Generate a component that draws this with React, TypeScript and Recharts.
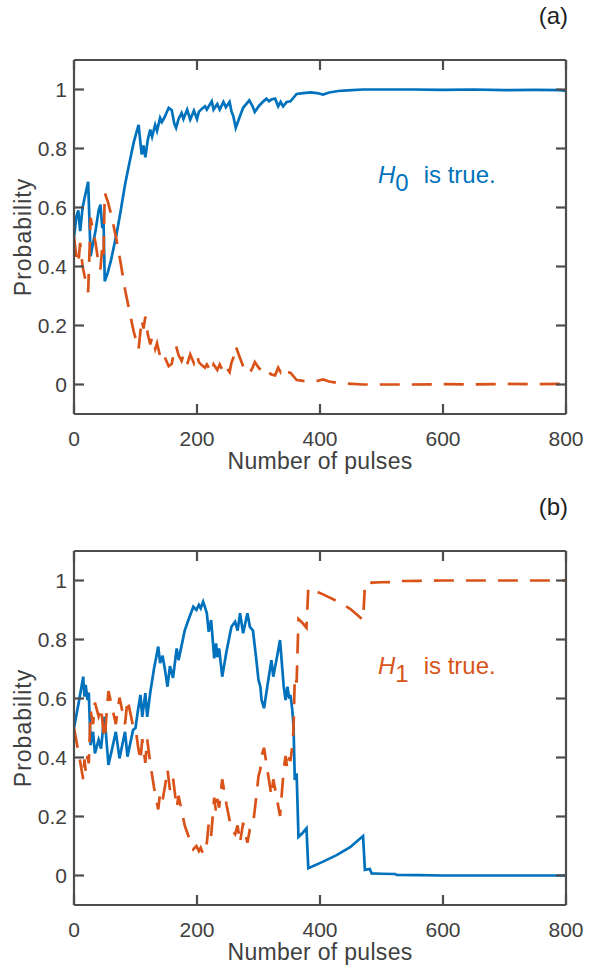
import React from "react";
import { LineChart, Line, XAxis, YAxis } from "recharts";

// MATLAB-ish default line colours
const BLUE = "#0072BD";
const ORANGE = "#D95319";
const FRAME = "#4d4d4d";
const INK = "#404040";
const FONT = "Arial, 'Liberation Sans', Helvetica, sans-serif";

const X_TICKS = [0, 200, 400, 600, 800];
const Y_TICKS = [0, 0.2, 0.4, 0.6, 0.8, 1];
const X_DOMAIN: [number, number] = [0, 800];
const Y_DOMAIN: [number, number] = [-0.1, 1.1];

// (a) H0 is true
const PULSES_A = [
  0, 4, 7, 10, 14, 18, 23, 27, 31, 35, 40, 43, 46, 48, 50, 55, 60, 69, 76, 83,
  90, 97, 105, 110, 113, 116, 120, 124, 127, 132, 135, 140, 143, 147, 154, 159, 163, 166, 170, 175,
  178, 184, 189, 195, 200, 203, 208, 213, 216, 224, 227, 233, 237, 243, 247, 253, 256, 259, 263, 269,
  275, 285, 290, 294, 301, 308, 313, 317, 321, 327, 332, 336, 340, 346, 352, 362, 373, 385, 395, 405,
  415, 430, 445, 470, 500, 550, 600, 650, 700, 750, 790, 800,
];
const PH0_A = [
  0.5, 0.57, 0.59, 0.52, 0.6, 0.64, 0.687, 0.435, 0.48, 0.52, 0.59, 0.61, 0.53, 0.56, 0.35, 0.38, 0.42, 0.508, 0.59, 0.678,
  0.75, 0.82, 0.88, 0.78, 0.81, 0.77, 0.83, 0.864, 0.84, 0.88, 0.86, 0.904, 0.89, 0.905, 0.938, 0.93, 0.885, 0.87, 0.9, 0.92,
  0.9, 0.932, 0.898, 0.928, 0.9, 0.924, 0.935, 0.943, 0.932, 0.96, 0.932, 0.951, 0.932, 0.958, 0.94, 0.958, 0.926, 0.91, 0.87, 0.905,
  0.938, 0.963, 0.945, 0.924, 0.945, 0.96, 0.969, 0.96, 0.966, 0.969, 0.943, 0.958, 0.943, 0.958, 0.96, 0.985, 0.988, 0.99, 0.988, 0.983,
  0.99, 0.995, 0.997, 1.0, 1.0, 1.0, 0.999, 1.0, 0.998, 0.999, 0.998, 0.995,
];
const PH1_A = [
  0.5, 0.43, 0.41, 0.48, 0.4, 0.36, 0.313, 0.565, 0.52, 0.48, 0.41, 0.39, 0.47, 0.44, 0.65, 0.62, 0.58, 0.492, 0.41, 0.322,
  0.25, 0.18, 0.12, 0.22, 0.19, 0.23, 0.17, 0.136, 0.16, 0.12, 0.14, 0.096, 0.11, 0.095, 0.062, 0.07, 0.115, 0.13, 0.1, 0.08,
  0.1, 0.068, 0.102, 0.072, 0.1, 0.076, 0.065, 0.057, 0.068, 0.04, 0.068, 0.049, 0.068, 0.042, 0.06, 0.042, 0.074, 0.09, 0.13, 0.095,
  0.062, 0.037, 0.055, 0.076, 0.055, 0.04, 0.031, 0.04, 0.034, 0.031, 0.057, 0.042, 0.057, 0.042, 0.04, 0.015, 0.012, 0.01, 0.012, 0.017,
  0.01, 0.005, 0.003, 0.0, 0.0, 0.0, 0.001, 0.0, 0.002, 0.001, 0.002, 0.005,
];

// (b) H1 is true
const PULSES_B = [
  0, 8, 15, 17, 19, 22, 24, 27, 31, 34, 40, 44, 48, 50, 52, 56, 62, 68, 74, 83,
  87, 96, 100, 104, 108, 111, 116, 119, 124, 130, 137, 140, 144, 148, 152, 156, 161, 167, 170, 175,
  180, 186, 194, 199, 203, 206, 210, 213, 216, 219, 223, 228, 231, 233, 236, 241, 248, 256, 262, 266,
  270, 275, 282, 286, 291, 296, 300, 303, 305, 309, 315, 321, 324, 330, 335, 341, 344, 347, 350, 352,
  355, 357, 359, 362, 365, 372, 378, 381, 405, 427, 449, 470, 473, 481, 484, 500, 522, 525, 560, 600,
  700, 800,
];
const PH0_B = [
  0.5, 0.59, 0.674, 0.606, 0.646, 0.595, 0.62, 0.442, 0.487, 0.414, 0.46, 0.43, 0.516, 0.538, 0.478, 0.375, 0.43, 0.487, 0.397, 0.487,
  0.403, 0.493, 0.5, 0.56, 0.612, 0.538, 0.618, 0.538, 0.62, 0.7, 0.776, 0.72, 0.745, 0.697, 0.64, 0.71, 0.67, 0.77, 0.73, 0.78,
  0.83, 0.866, 0.911, 0.9, 0.917, 0.906, 0.928, 0.91, 0.889, 0.826, 0.866, 0.736, 0.787, 0.74, 0.77, 0.674, 0.76, 0.843, 0.86, 0.83,
  0.889, 0.821, 0.889, 0.843, 0.83, 0.74, 0.663, 0.64, 0.595, 0.567, 0.65, 0.73, 0.674, 0.74, 0.798, 0.64, 0.595, 0.64, 0.6, 0.612,
  0.56, 0.504, 0.324, 0.346, 0.131, 0.145, 0.16, 0.025, 0.047, 0.069, 0.096, 0.134, 0.019, 0.022, 0.007, 0.006, 0.005, 0.002, 0.001, 0.0,
  0.0, 0.0,
];
const PH1_B = [
  0.5, 0.41, 0.326, 0.394, 0.354, 0.405, 0.38, 0.558, 0.513, 0.586, 0.54, 0.57, 0.484, 0.462, 0.522, 0.625, 0.57, 0.513, 0.603, 0.513,
  0.597, 0.507, 0.5, 0.44, 0.388, 0.462, 0.382, 0.462, 0.38, 0.3, 0.224, 0.28, 0.255, 0.303, 0.36, 0.29, 0.33, 0.23, 0.27, 0.22,
  0.17, 0.134, 0.089, 0.1, 0.083, 0.094, 0.072, 0.09, 0.111, 0.174, 0.134, 0.264, 0.213, 0.26, 0.23, 0.326, 0.24, 0.157, 0.14, 0.17,
  0.111, 0.179, 0.111, 0.157, 0.17, 0.26, 0.337, 0.36, 0.405, 0.433, 0.35, 0.27, 0.326, 0.26, 0.202, 0.36, 0.405, 0.36, 0.4, 0.388,
  0.44, 0.496, 0.676, 0.654, 0.869, 0.855, 0.84, 0.975, 0.953, 0.931, 0.904, 0.866, 0.981, 0.978, 0.993, 0.994, 0.995, 0.998, 0.999, 1.0,
  1.0, 1.0,
];

type Row = { x: number; p0: number; p1: number };
const toRows = (xs: number[], p0: number[], p1: number[]): Row[] =>
  xs.map((x, i) => ({ x, p0: p0[i], p1: p1[i] }));

const PLOT_H = 354;
const AXIS_H = 40;
const TICK_LEN = 10; // ticks point into the box, matlab style

// inward tick marks on all four edges, placed from the plot box recharts hands to the label,
// plus the x title
function BoxTicks(props: any) {
  const vb = props.viewBox;
  const left = vb.x;
  const right = vb.x + vb.width;
  const bottom = vb.y;
  const top = bottom - PLOT_H;
  const sx = (v: number) => left + ((v - X_DOMAIN[0]) / (X_DOMAIN[1] - X_DOMAIN[0])) * vb.width;
  const sy = (v: number) => bottom - ((v - Y_DOMAIN[0]) / (Y_DOMAIN[1] - Y_DOMAIN[0])) * PLOT_H;
  return (
    <g stroke={FRAME} strokeWidth={2.2}>
      {X_TICKS.map((t) => (
        <g key={`x${t}`}>
          <line x1={sx(t)} x2={sx(t)} y1={bottom} y2={bottom - TICK_LEN} />
          <line x1={sx(t)} x2={sx(t)} y1={top} y2={top + TICK_LEN} />
        </g>
      ))}
      {Y_TICKS.map((t) => (
        <g key={`y${t}`}>
          <line x1={left} x2={left + TICK_LEN} y1={sy(t)} y2={sy(t)} />
          <line x1={right} x2={right - TICK_LEN} y1={sy(t)} y2={sy(t)} />
        </g>
      ))}
      <text
        x={left + vb.width / 2}
        y={vb.y + vb.height + 15}
        textAnchor="middle"
        fill={INK}
        stroke="none"
        fontSize={23}
        letterSpacing={0.3}
      >
        Number of pulses
      </text>
    </g>
  );
}

function YTitle(props: any) {
  const vb = props.viewBox;
  const cx = vb.x + 23;
  const cy = vb.y + vb.height / 2;
  return (
    <text
      transform={`translate(${cx},${cy}) rotate(-90)`}
      textAnchor="middle"
      dominantBaseline="central"
      fill={INK}
      fontSize={23}
      letterSpacing={1}
    >
      Probability
    </text>
  );
}

const frameLine = { stroke: FRAME, strokeWidth: 2.2 };
const noLabel = () => <g />;

function Panel({ data, height, top }: { data: Row[]; height: number; top: number }) {
  return (
    <LineChart
      width={592}
      height={height}
      data={data}
      margin={{ top: top - 1, right: 25, bottom: height - top - PLOT_H - AXIS_H, left: 0 }}
      style={{ fontFamily: FONT }}
    >
      <XAxis
        xAxisId="b"
        dataKey="x"
        type="number"
        domain={X_DOMAIN}
        ticks={X_TICKS}
        allowDataOverflow
        height={AXIS_H}
        tickSize={0}
        tickMargin={17}
        axisLine={frameLine}
        tickLine={false}
        tick={{ fill: INK, fontSize: 21 }}
        label={{ content: BoxTicks }}
      />
      <XAxis
        xAxisId="t"
        orientation="top"
        dataKey="x"
        type="number"
        domain={X_DOMAIN}
        ticks={X_TICKS}
        allowDataOverflow
        height={1}
        tickSize={0}
        axisLine={frameLine}
        tickLine={false}
        tick={noLabel}
      />
      <YAxis
        yAxisId="l"
        type="number"
        domain={Y_DOMAIN}
        ticks={Y_TICKS}
        allowDataOverflow
        width={74}
        tickSize={0}
        tickMargin={7}
        axisLine={frameLine}
        tickLine={false}
        tick={{ fill: INK, fontSize: 21 }}
        label={{ content: YTitle }}
      />
      <YAxis
        yAxisId="r"
        orientation="right"
        type="number"
        domain={Y_DOMAIN}
        ticks={Y_TICKS}
        allowDataOverflow
        width={1}
        tickSize={0}
        axisLine={frameLine}
        tickLine={false}
        tick={noLabel}
      />
      {/* invisible copy so the top / right frame axes have a series */}
      <Line
        xAxisId="t"
        yAxisId="r"
        type="linear"
        dataKey="p0"
        stroke="none"
        dot={false}
        legendType="none"
        isAnimationActive={false}
      />
      <Line
        xAxisId="b"
        yAxisId="l"
        type="linear"
        dataKey="p0"
        stroke={BLUE}
        strokeWidth={2.7}
        dot={false}
        isAnimationActive={false}
      />
      <Line
        xAxisId="b"
        yAxisId="l"
        type="linear"
        dataKey="p1"
        stroke={ORANGE}
        strokeWidth={2.7}
        strokeDasharray="20 12"
        dot={false}
        isAnimationActive={false}
      />
    </LineChart>
  );
}

function Note({ top, color, sub }: { top: number; color: string; sub: string }) {
  return (
    <div
      style={{
        position: "absolute",
        left: 378,
        top,
        color,
        fontSize: 24,
        lineHeight: 1,
        whiteSpace: "nowrap",
      }}
    >
      <i>H</i>
      <span style={{ position: "relative", top: 8 }}>{sub}</span>
      <span style={{ marginLeft: 15 }}>is true.</span>
    </div>
  );
}

function Tag({ top, text }: { top: number; text: string }) {
  return (
    <div
      style={{
        position: "absolute",
        left: 500,
        width: 68,
        top,
        textAlign: "right",
        fontSize: 24,
        lineHeight: 1,
        color: "#222",
      }}
    >
      {text}
    </div>
  );
}

export default function App() {
  const rowsA = toRows(PULSES_A, PH0_A, PH1_A);
  const rowsB = toRows(PULSES_B, PH0_B, PH1_B);
  return (
    <div
      style={{
        position: "absolute",
        left: 0,
        top: 0,
        width: 592,
        height: 967,
        background: "#fff",
        fontFamily: FONT,
      }}
    >
      <div style={{ position: "absolute", left: 0, top: 0 }}>
        <Panel data={rowsA} height={480} top={60} />
      </div>
      <div style={{ position: "absolute", left: 0, top: 480 }}>
        <Panel data={rowsB} height={487} top={71} />
      </div>
      <Tag top={4} text="(a)" />
      <Tag top={495} text="(b)" />
      <Note top={163} color={BLUE} sub="0" />
      <Note top={654} color={ORANGE} sub="1" />
    </div>
  );
}
